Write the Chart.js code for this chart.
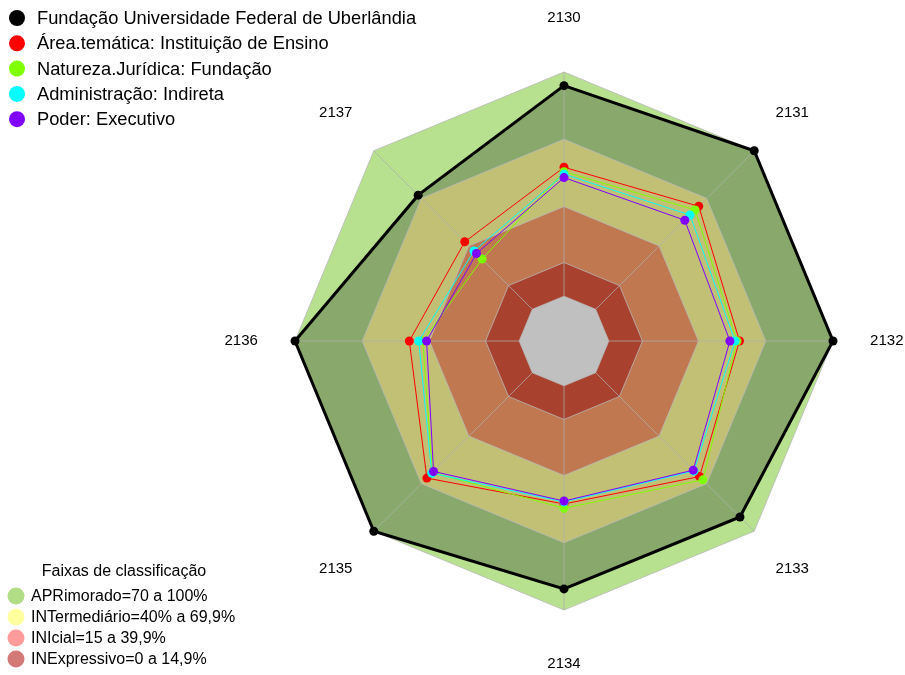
<!DOCTYPE html>
<html><head><meta charset="utf-8">
<script src="https://cdn.jsdelivr.net/npm/chart.js@4/dist/chart.umd.min.js"></script>
<style>html,body{margin:0;padding:0;background:#fff;}#wrap{width:905px;height:675px;position:relative}</style>
</head><body><div id="wrap"><canvas id="c" width="905" height="675"></canvas></div>
<script>
// ---- data ----
const categories = ['2130','2131','2132','2133','2134','2135','2136','2137'];
const seriesNames = ['Fundação Universidade Federal de Uberlândia','Área.temática: Instituição de Ensino','Natureza.Jurídica: Fundação','Administração: Indireta','Poder: Executivo'];
const seriesColors = ['#000000','#FF0000','#80FF00','#00FFFF','#8000FF'];
const fundacaoUFU      = [93.9, 100, 100, 91.0, 90.6, 100, 100, 72.0];
const areaTematica     = [57.5, 65.0, 58.3, 65.5, 52.7, 66.5, 49.0, 42.6];
const naturezaJuridica = [55.5, 62.7, 57.2, 67.6, 54.6, 63.0, 43.0, 31.7];
const administracao    = [54.4, 59.5, 56.3, 62.0, 51.8, 63.4, 44.8, 36.8];
const poderExecutivo   = [52.9, 56.2, 54.0, 61.5, 51.4, 62.3, 41.3, 35.2];
const bandNames = ['APRimorado=70 a 100%','INTermediário=40% a 69,9%','INIcial=15 a 39,9%','INExpressivo=0 a 14,9%'];
const bandLegendColors = ['rgb(178,221,135)','rgb(255,255,160)','rgb(255,155,155)','rgb(212,120,120)'];
const bandAPR = [100, 100, 100, 100, 100, 100, 100, 100];
const bandINT = [70, 70, 70, 70, 70, 70, 70, 70];
const bandINI = [40, 40, 40, 40, 40, 40, 40, 40];
const bandINE = [15, 15, 15, 15, 15, 15, 15, 15];
const bandZero = [0, 0, 0, 0, 0, 0, 0, 0];
const legendTitle = 'Faixas de classificação';

const FONT = '"Liberation Sans", Arial, sans-serif';
const seriesData = [fundacaoUFU, areaTematica, naturezaJuridica, administracao, poderExecutivo];

function lineDs(i, order) {
  return {
    label: seriesNames[i], data: seriesData[i], order: order,
    borderColor: seriesColors[i], backgroundColor: seriesColors[i],
    borderWidth: i === 0 ? 3 : 1, fill: false, tension: 0,
    pointRadius: 4.5, pointBorderWidth: 0, pointBackgroundColor: seriesColors[i]
  };
}
function bandDs(data, color, order) {
  return { label: '_band', data: data, order: order, fill: 'start',
    backgroundColor: color, borderColor: 'rgba(185,185,185,0.8)', borderWidth: 1,
    pointRadius: 0, tension: 0 };
}
const datasets = [
  lineDs(0, 5), lineDs(1, 4), lineDs(2, 3), lineDs(3, 2), lineDs(4, 1),
  { label: '_fill', data: fundacaoUFU, order: 14, fill: 'start', backgroundColor: 'rgba(0,0,0,0.25)', borderWidth: 0, pointRadius: 0, tension: 0 },
  bandDs(bandAPR, 'rgb(183,224,143)', 15),
  bandDs(bandINT, 'rgb(193,192,116)', 13),
  bandDs(bandINI, 'rgb(191,120,79)', 12),
  bandDs(bandINE, 'rgb(168,65,45)', 11),
  bandDs(bandZero, 'rgb(192,192,192)', 10)
];
const CENTER_INDEX = 10;

const spokes = {
  id: 'spokes',
  afterDatasetDraw(chart, args) {
    if (args.index !== CENTER_INDEX) return;
    const s = chart.scales.r, ctx = chart.ctx;
    ctx.save();
    ctx.strokeStyle = 'rgba(175,175,175,0.75)';
    ctx.lineWidth = 1;
    for (let i = 0; i < categories.length; i++) {
      const a = s.getPointPositionForValue(i, 0), b = s.getPointPositionForValue(i, 100);
      ctx.beginPath(); ctx.moveTo(a.x, a.y); ctx.lineTo(b.x, b.y); ctx.stroke();
    }
    ctx.restore();
  }
};
const labelsAndLegends = {
  id: 'labelsAndLegends',
  afterDraw(chart) {
    const s = chart.scales.r, ctx = chart.ctx;
    ctx.save();
    ctx.fillStyle = '#000';
    ctx.font = '15px ' + FONT;
    ctx.textAlign = 'center'; ctx.textBaseline = 'middle';
    for (let i = 0; i < categories.length; i++) {
      const p = s.getPointPosition(i, s.drawingArea * 1.2);
      ctx.fillText(categories[i], p.x, p.y);
    }
    // top legend
    ctx.textAlign = 'left';
    ctx.font = '18.3px ' + FONT;
    for (let i = 0; i < seriesNames.length; i++) {
      const y = 18 + i * 25.3;
      ctx.fillStyle = seriesColors[i];
      ctx.beginPath(); ctx.arc(17, y, 8, 0, Math.PI * 2); ctx.fill();
      ctx.fillStyle = '#000';
      ctx.fillText(seriesNames[i], 37, y + 1);
    }
    // band legend
    ctx.font = '16px ' + FONT;
    ctx.textAlign = 'center';
    ctx.fillText(legendTitle, 124, 572);
    ctx.textAlign = 'left';
    for (let i = 0; i < bandNames.length; i++) {
      const y = 596 + i * 21;
      ctx.fillStyle = bandLegendColors[i];
      ctx.beginPath(); ctx.arc(16, y, 8.5, 0, Math.PI * 2); ctx.fill();
      ctx.fillStyle = '#000';
      ctx.fillText(bandNames[i], 31, y + 1);
    }
    ctx.restore();
  }
};

new Chart(document.getElementById('c'), {
  type: 'radar',
  data: { labels: categories, datasets: datasets },
  options: {
    responsive: false, animation: false, devicePixelRatio: 1,
    layout: { padding: { left: 295, right: 72, top: 72, bottom: 65 } },
    plugins: { legend: { display: false }, tooltip: { enabled: false } },
    elements: { line: { tension: 0 } },
    scales: { r: {
      min: -20, max: 100, startAngle: 0,
      ticks: { display: false },
      grid: { display: false },
      angleLines: { display: false },
      pointLabels: { display: false }
    } }
  },
  plugins: [spokes, labelsAndLegends]
});
</script></body></html>
